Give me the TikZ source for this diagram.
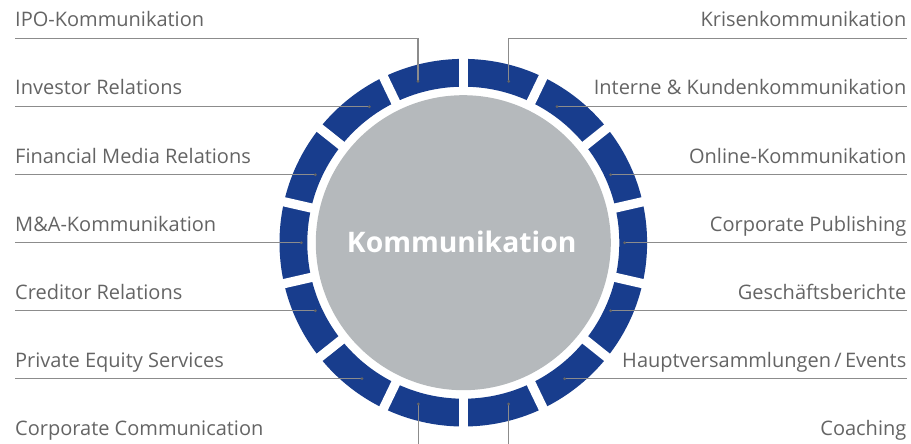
\documentclass[tikz,border=0pt]{standalone}
\usepackage{fontspec}
\setmainfont{Open Sans}[RawFeature=-liga]
\usetikzlibrary{arrows.meta}
\definecolor{ringblue}{RGB}{24,61,141}
\definecolor{coregray}{RGB}{181,185,188}
\definecolor{linegray}{RGB}{140,140,140}
\definecolor{dotgray}{RGB}{100,100,100}
\definecolor{labelgray}{RGB}{100,100,100}
\begin{document}
\begin{tikzpicture}[x=1pt,y=-1pt,
  lbl/.style={font=\fontsize{20}{20}\selectfont, text=labelgray, inner sep=0pt},
  leftlbl/.style={lbl, anchor=base west},
  rightlbl/.style={lbl, anchor=base east},
  lead/.style={draw=linegray, line width=1.1pt, -{Circle[length=2.6pt, color=dotgray]}},
  gap/.style={draw=white, line width=9.3}
]
\useasboundingbox (0,0) rectangle (911,444);
\coordinate (c) at (463.3,242.7);

% blue ring, cut into 14 segments
\fill[ringblue, even odd rule] (c) circle[radius=183.8] (c) circle[radius=156];
\foreach \k in {0,...,6}
  \draw[gap] ([shift={(90+\k*25.7143:190)}]c) -- ([shift={(270+\k*25.7143:190)}]c);

% core disc
\fill[coregray] (c) circle[radius=147.5];
\node[font=\fontsize{28.3}{28.3}\selectfont\bfseries, text=white, inner sep=0pt, anchor=base]
  (core) at (461.7,252.3) {Kommunikation};

% left column
\foreach \i/\ex/\txt in {
  1/370.7/{Investor Relations},
  2/316.7/{Financial Media Relations},
  3/302.7/{M\&A-Kommunikation},
  4/316.7/{Creditor Relations},
  5/363.3/{Private Equity Services}}{
  \node[leftlbl] (L\i) at (15,38.7+68*\i-11.7) {\txt};
  \coordinate (Ls\i) at (15,38.7+68*\i);
  \coordinate (Le\i) at (\ex,38.7+68*\i);
  \draw[lead] (Ls\i) -- (Le\i);
}
\node[leftlbl] (L0) at (15,27) {IPO-Kommunikation};
\coordinate (Ls0) at (15,38.7);
\coordinate (Le0) at (418,82.7);
\draw[lead] (Ls0) -| (Le0);
\node[leftlbl] (L6) at (15,435.5) {Corporate Communication};
\coordinate (Ls6) at (418.3,444);
\coordinate (Le6) at (418.3,402.7);
\draw[lead] (Ls6) -- (Le6);

% right column
\foreach \i/\ex/\txt in {
  1/555.7/{Interne \& Kundenkommunikation},
  2/609.3/{Online-Kommunikation},
  3/623.3/{Corporate Publishing},
  4/609.3/{Geschäftsberichte},
  5/563.3/{Hauptversammlungen\,/\,Events}}{
  \node[rightlbl] (R\i) at (906.5,38.7+68*\i-11.7) {\txt};
  \coordinate (Rs\i) at (906.5,38.7+68*\i);
  \coordinate (Re\i) at (\ex,38.7+68*\i);
  \draw[lead] (Rs\i) -- (Re\i);
}
\node[rightlbl] (R0) at (906.5,27) {Krisenkommunikation};
\coordinate (Rs0) at (906.5,38.7);
\coordinate (Re0) at (508.7,82.7);
\draw[lead] (Rs0) -| (Re0);
\node[rightlbl] (R6) at (906.5,435.5) {Coaching};
\coordinate (Rs6) at (508.7,444);
\coordinate (Re6) at (508.7,402.7);
\draw[lead] (Rs6) -- (Re6);
\end{tikzpicture}
\end{document}
